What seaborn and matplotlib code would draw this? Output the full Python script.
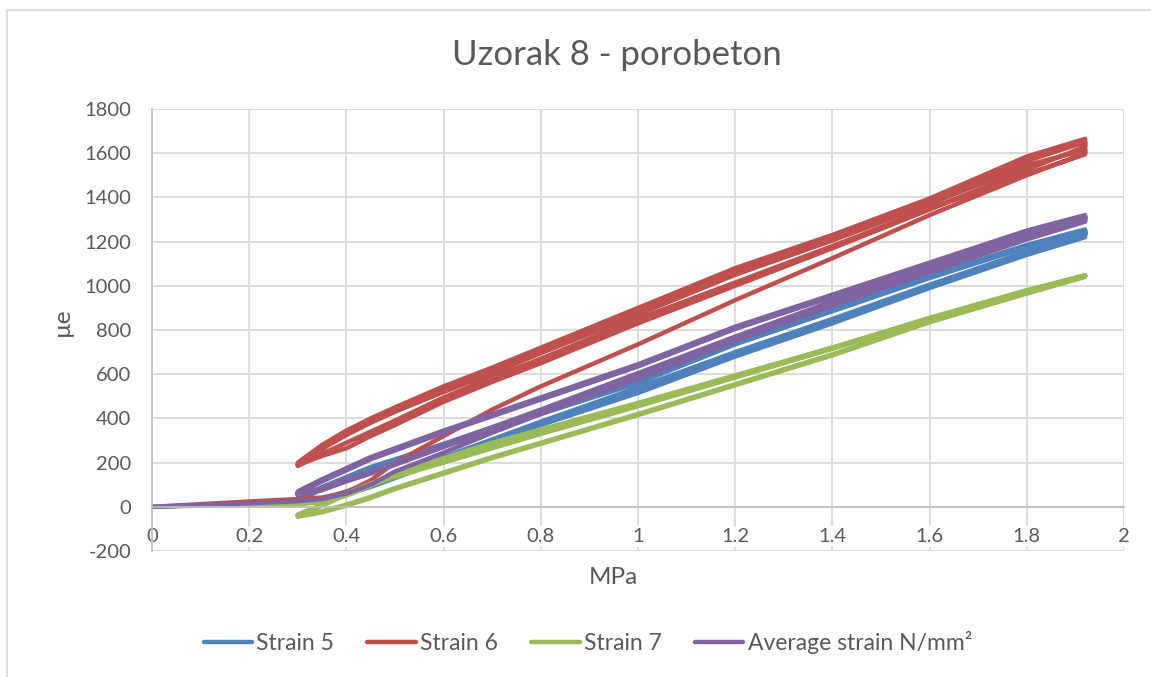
import numpy as np
import pandas as pd
import matplotlib
matplotlib.use("Agg")
import matplotlib.pyplot as plt
from matplotlib.lines import Line2D
from matplotlib.patches import Rectangle
import seaborn as sns

# Loading protocol: initial ramp, then three load/unload cycles between 0.3 and 1.92 MPa
INIT_MPA = [0.0, 0.1, 0.2]
BRANCH_MPA = [0.3, 0.35, 0.4, 0.45, 0.5, 0.6, 0.7, 0.8, 1.0, 1.2, 1.4, 1.6, 1.8, 1.92]
N_CYCLES = 3

# Measured strains (µe) along the loading path
strain_5 = [0, 7, 14,
            18, 28, 55, 90, 130, 210, 290, 370, 515, 680, 830, 990, 1140, 1220,
            1255, 1185, 1045, 895, 745, 570, 430, 360, 285, 215, 180, 135, 90, 35,
            10, 30, 65, 100, 140, 220, 300, 380, 530, 690, 845, 1000, 1150, 1230,
            1250, 1180, 1040, 890, 740, 565, 425, 355, 280, 210, 175, 130, 85, 30,
            15, 35, 70, 105, 145, 225, 305, 385, 540, 700, 850, 1005, 1155, 1235,
            1245, 1175, 1035, 885, 735, 560, 420, 350, 275, 205, 170, 125, 80, 25]

strain_6 = [0, 12, 24,
            35, 42, 65, 120, 200, 320, 440, 545, 735, 935, 1125, 1320, 1500, 1600,
            1665, 1585, 1395, 1230, 1080, 900, 720, 630, 545, 450, 400, 345, 280, 200,
            190, 230, 265, 320, 370, 475, 565, 650, 830, 1000, 1170, 1345, 1525, 1630,
            1650, 1565, 1380, 1215, 1065, 880, 705, 615, 530, 440, 390, 335, 270, 195,
            185, 240, 290, 340, 390, 495, 585, 670, 850, 1015, 1180, 1350, 1505, 1595,
            1615, 1545, 1370, 1205, 1050, 870, 695, 605, 520, 430, 380, 325, 262, 190]

strain_7 = [0, 5, 9,
            12, 22, 50, 95, 150, 220, 290, 350, 470, 595, 720, 850, 975, 1045,
            1048, 980, 855, 720, 590, 460, 335, 270, 205, 140, 105, 60, 10, -35,
            -45, -25, 5, 40, 80, 150, 220, 285, 415, 550, 685, 835, 965, 1040,
            1045, 975, 850, 715, 585, 455, 330, 265, 200, 135, 100, 55, 5, -40,
            -42, -20, 10, 45, 85, 155, 225, 290, 420, 555, 690, 838, 968, 1043,
            1046, 978, 852, 718, 588, 458, 332, 268, 203, 138, 103, 58, 8, -38]

strain_avg = [0, 8, 16,
              25, 35, 60, 100, 160, 245, 335, 420, 580, 750, 910, 1060, 1210, 1290,
              1320, 1250, 1105, 960, 815, 645, 495, 420, 345, 265, 225, 175, 125, 70,
              50, 75, 115, 150, 190, 270, 350, 430, 595, 765, 925, 1075, 1225, 1305,
              1315, 1245, 1100, 955, 810, 640, 490, 415, 340, 260, 220, 170, 120, 65,
              55, 85, 125, 160, 200, 280, 360, 440, 605, 770, 930, 1080, 1225, 1295,
              1310, 1240, 1095, 950, 805, 635, 485, 410, 335, 255, 215, 165, 115, 60]

SERIES = ["Strain 5", "Strain 6", "Strain 7", "Average strain N/mm²"]
COLORS = ["#4F81BD", "#C0504D", "#9BBB59", "#8064A2"]
X_TICKS = [0, 0.2, 0.4, 0.6, 0.8, 1.0, 1.2, 1.4, 1.6, 1.8, 2.0]
Y_TICKS = [-200, 0, 200, 400, 600, 800, 1000, 1200, 1400, 1600, 1800]

stress = INIT_MPA + (BRANCH_MPA + BRANCH_MPA[::-1]) * N_CYCLES

frames = []
for name, vals in zip(SERIES, [strain_5, strain_6, strain_7, strain_avg]):
    frames.append(pd.DataFrame({"MPa": stress, "ue": vals, "series": name}))
df = pd.concat(frames, ignore_index=True)

sns.set_theme(style="white")
plt.rcParams["font.family"] = ["Lato", "DejaVu Sans"]
plt.rcParams["axes.unicode_minus"] = False
TXT = "#595959"
GRID = "#D9D9D9"

W, H = 1151, 677
fig = plt.figure(figsize=(W / 100, H / 100), dpi=100)
fig.patch.set_facecolor("white")
ax = fig.add_axes([152 / W, 1 - 551 / H, (1124 - 152) / W, (551 - 109) / H])

sns.lineplot(data=df, x="MPa", y="ue", hue="series", hue_order=SERIES,
             palette=COLORS, sort=False, estimator=None, units="series",
             linewidth=3.2, solid_joinstyle="round", solid_capstyle="round",
             legend=False, ax=ax)

ax.set_xlim(0, 2)
ax.set_ylim(-200, 1800)
ax.set_xticks(X_TICKS)
ax.set_xticklabels([f"{v:g}" for v in X_TICKS])
ax.set_yticks(Y_TICKS)
ax.set_yticklabels([f"{v:d}" for v in Y_TICKS])
ax.grid(True, color=GRID, linewidth=1.3)
ax.set_axisbelow(True)
for side in ["top", "right"]:
    ax.spines[side].set_visible(False)
ax.spines["left"].set_color("#BFBFBF")
ax.spines["bottom"].set_color("#BFBFBF")
ax.spines["bottom"].set_position(("data", 0))
ax.tick_params(axis="both", length=0, labelsize=14.5, labelcolor=TXT)
ax.tick_params(axis="y", pad=15)
ax.tick_params(axis="x", pad=15)
for lab in ax.get_xticklabels():
    lab.set_bbox(dict(facecolor="white", edgecolor="none", pad=1.5))
ax.set_xlabel("")
ax.set_ylabel("")

fig.text(617 / W, 1 - 55 / H, "Uzorak 8 - porobeton", ha="center", va="center",
         fontsize=25, color=TXT)
fig.text(613 / W, 1 - 577 / H, "MPa", ha="center", va="center", fontsize=17.5, color=TXT)
fig.text(62 / W, 1 - 322 / H, "µe", ha="center", va="center", rotation=90,
         fontsize=17.5, color=TXT)

handles = [Line2D([0], [0], color=c, lw=3.2) for c in COLORS]
fig.legend(handles, SERIES, loc="center", bbox_to_anchor=(588 / W, 1 - 643 / H),
           ncol=4, frameon=False, fontsize=16.5, labelcolor=TXT,
           handlelength=2.1, handletextpad=0.2, columnspacing=1.45)

fig.patches.append(Rectangle((7 / W, -0.1), 1.2, 1 - 10 / H + 0.1,
                             transform=fig.transFigure, fill=False,
                             edgecolor=GRID, linewidth=1.2))

fig.savefig("out.png", dpi=100)
